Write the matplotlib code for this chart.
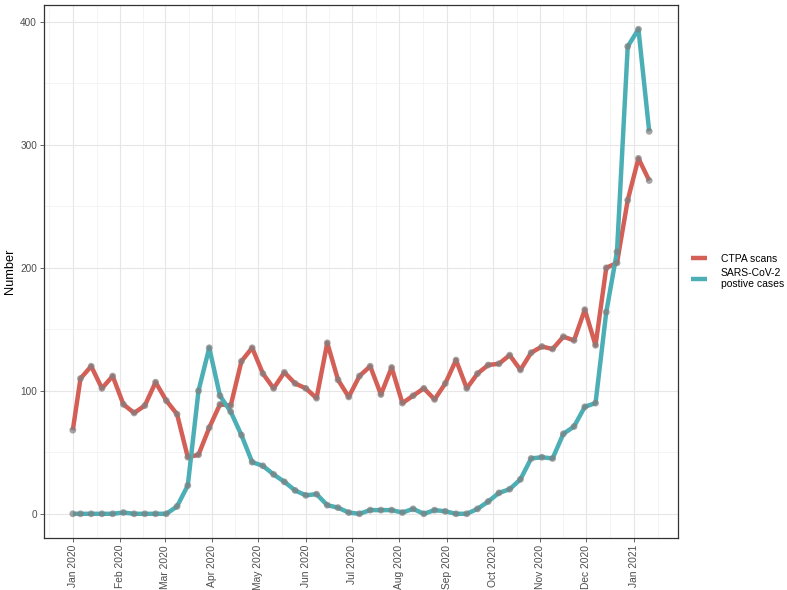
import numpy as np
import pandas as pd
import matplotlib
matplotlib.use("Agg")
import matplotlib.pyplot as plt
import matplotlib.dates as mdates

plt.rcParams["font.family"] = ["Liberation Sans", "DejaVu Sans"]

# weekly counts, first point is 1 Jan 2020, then Mondays from 6 Jan 2020
dates = [pd.Timestamp("2020-01-01")] + list(pd.date_range("2020-01-06", periods=54, freq="7D"))

ctpa = [68, 110, 120, 102, 112, 89, 82, 88, 107, 92,
        81, 46, 48, 70, 89, 88, 124, 135, 114, 102,
        115, 106, 102, 94, 139, 109, 95, 112, 120, 97,
        119, 90, 96, 102, 93, 106, 125, 102, 114, 121,
        122, 129, 117, 131, 136, 134, 144, 141, 166, 137,
        200, 204, 255, 289, 271]

covid = [0, 0, 0, 0, 0, 1, 0, 0, 0, 0,
         6, 23, 100, 135, 96, 83, 64, 42, 39, 32,
         26, 19, 15, 16, 7, 5, 1, 0, 3, 3,
         3, 1, 4, 0, 3, 2, 0, 0, 4, 10,
         17, 20, 28, 45, 46, 45, 65, 71, 87, 90,
         164, 213, 380, 394, 311]

series_labels = ["CTPA scans", "SARS-CoV-2\npostive cases"]
series_colors = ["#D35F56", "#4CAFB5"]

fig = plt.figure(figsize=(7.87, 5.90), dpi=100)
ax = fig.add_axes([0.0559, 0.0881, 0.8056, 0.9034])

for vals, lab, col in zip([ctpa, covid], series_labels, series_colors):
    ax.plot(dates, vals, color=col, lw=3.2, label=lab, solid_capstyle="butt", zorder=3)
for vals in [ctpa, covid]:
    ax.scatter(dates, vals, s=24, color="#7f7f7f", alpha=0.7, edgecolors="none", zorder=4)

# axes
ax.margins(x=0.05, y=0.05)
ax.set_ylim(-19.7, 413.7)
ax.set_yticks([0, 100, 200, 300, 400])
ax.set_yticks([50, 150, 250, 350], minor=True)

majors = pd.date_range("2020-01-01", "2021-01-01", freq="MS")
ax.set_xticks(majors)
ax.xaxis.set_major_formatter(mdates.DateFormatter("%b %Y"))
mids = [majors[i] + (majors[i + 1] - majors[i]) / 2 for i in range(len(majors) - 1)]
mids = [majors[0] - (majors[1] - majors[0]) / 2] + mids + [majors[-1] + (majors[-1] - majors[-2]) / 2]
ax.set_xticks(mids, minor=True)

ax.tick_params(axis="x", which="major", labelrotation=90, labelsize=7.4, colors="#4d4d4d",
               length=3, width=0.6, pad=2)
ax.tick_params(axis="y", which="major", labelsize=7.2, colors="#4d4d4d", length=3, width=0.6, pad=2)
ax.tick_params(which="minor", length=0)
for lbl in ax.get_xticklabels() + ax.get_yticklabels():
    lbl.set_color("#4d4d4d")

ax.grid(True, which="major", color="#e6e6e6", lw=0.8)
ax.grid(True, which="minor", color="#f0f0f0", lw=0.5)
ax.set_axisbelow(True)
for sp in ax.spines.values():
    sp.set_color("#333333")
    sp.set_linewidth(0.9)

ax.set_ylabel("Number", fontsize=9.2, labelpad=3)

leg = ax.legend(loc="center left", bbox_to_anchor=(1.005, 0.5), frameon=False, fontsize=7.5,
                handlelength=1.6, handletextpad=1.3, labelspacing=0.4)
for h in leg.get_lines():
    h.set_linewidth(3.2)

fig.savefig("out.png", dpi=100)
